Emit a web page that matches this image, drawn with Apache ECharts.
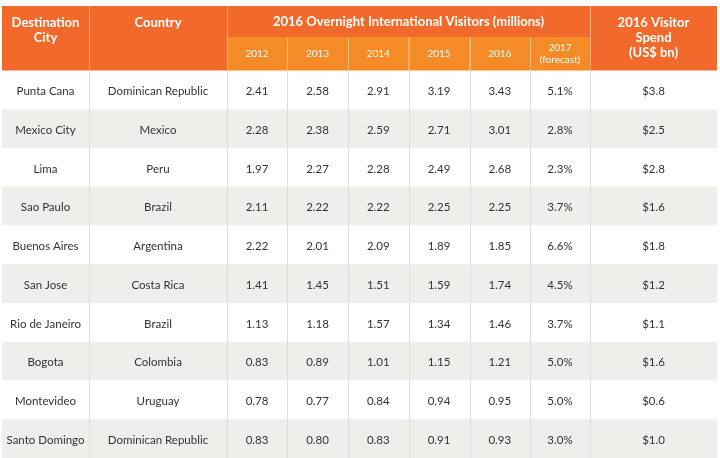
<!DOCTYPE html>
<html>
<head>
<meta charset="utf-8">
<script src="https://cdn.jsdelivr.net/npm/echarts@6/dist/echarts.min.js"></script>
<style>
    html, body { margin: 0; padding: 0; background: #ffffff; }
    #main { width: 720px; height: 458px; }
</style>
</head>
<body>
<div id="main"></div>
<script>
// table data
var cities = ["Punta Cana", "Mexico City", "Lima", "Sao Paulo", "Buenos Aires",
    "San Jose", "Rio de Janeiro", "Bogota", "Montevideo", "Santo Domingo"];
var countries = ["Dominican Republic", "Mexico", "Peru", "Brazil", "Argentina",
    "Costa Rica", "Brazil", "Colombia", "Uruguay", "Dominican Republic"];
var v2012 = ["2.41", "2.28", "1.97", "2.11", "2.22", "1.41", "1.13", "0.83", "0.78", "0.83"];
var v2013 = ["2.58", "2.38", "2.27", "2.22", "2.01", "1.45", "1.18", "0.89", "0.77", "0.80"];
var v2014 = ["2.91", "2.59", "2.28", "2.22", "2.09", "1.51", "1.57", "1.01", "0.84", "0.83"];
var v2015 = ["3.19", "2.71", "2.49", "2.25", "1.89", "1.59", "1.34", "1.15", "0.94", "0.91"];
var v2016 = ["3.43", "3.01", "2.68", "2.25", "1.85", "1.74", "1.46", "1.21", "0.95", "0.93"];
var growth2017 = ["5.1%", "2.8%", "2.3%", "3.7%", "6.6%", "4.5%", "3.7%", "5.0%", "5.0%", "3.0%"];
var spend2016 = ["$3.8", "$2.5", "$2.8", "$1.6", "$1.8", "$1.2", "$1.1", "$1.6", "$0.6", "$1.0"];

var yearLabels = ["2012", "2013", "2014", "2015", "2016", "2017\n(forecast)"];
var headCity = "Destination\nCity";
var headCountry = "Country";
var headVisitors = "2016 Overnight International Visitors (millions)";
var headSpend = "2016 Visitor\nSpend\n(US$ bn)";

// layout
var colWidths = [87, 138, 60, 61, 60.5, 61, 60.5, 60, 127];
var colStart = [0];
for (var i = 1; i <= colWidths.length; i++) {
    colStart.push(colStart[i - 1] + colWidths[i - 1]);
}
var totalWidth = colStart[colWidths.length];

var ORANGE = "#f26a2b";
var ORANGE_LIGHT = "#f58b26";
var FONT = "Lato";

var columns = [cities, countries, v2012, v2013, v2014, v2015, v2016, growth2017, spend2016];

var bodyData = [];
for (var r = 0; r < cities.length; r++) {
    for (var c = 0; c < columns.length; c++) {
        bodyData.push({ value: [c, r], text: columns[c][r] });
    }
}

// header cells: column span, row span (0..2), text
var headerData = [
    { value: [0, 1, 0, 2], text: headCity, bg: ORANGE, top: true },
    { value: [1, 2, 0, 2], text: headCountry, bg: ORANGE, top: true },
    { value: [2, 8, 0, 0.96], text: headVisitors, bg: ORANGE },
    { value: [8, 9, 0, 2], text: headSpend, bg: ORANGE, top: true }
];
for (var k = 0; k < yearLabels.length; k++) {
    headerData.push({ value: [2 + k, 3 + k, 0.96, 2], text: yearLabels[k], bg: ORANGE_LIGHT, small: true });
}

function renderBody(params, api) {
    var col = api.value(0);
    var row = api.value(1);
    var p0 = api.coord([colStart[col], row]);
    var p1 = api.coord([colStart[col + 1], row]);
    var h = api.size([0, 1])[1];
    var y0 = p0[1] - h / 2;
    var children = [{
        type: "rect",
        shape: { x: p0[0], y: y0, width: p1[0] - p0[0], height: h },
        style: { fill: row % 2 ? "#efeeeb" : "#ffffff" }
    }];
    if (col > 0) {
        var lx = Math.round(p0[0]) + 0.5;
        children.push({
            type: "line",
            shape: { x1: lx, y1: y0, x2: lx, y2: y0 + h },
            style: { stroke: "#dddddd", lineWidth: 1 }
        });
    }
    children.push({
        type: "text",
        style: {
            text: bodyData[params.dataIndex].text,
            x: (p0[0] + p1[0]) / 2,
            y: p0[1] + 1.5,
            align: "center",
            verticalAlign: "middle",
            fill: "#333333",
            fontSize: 11.5,
            fontFamily: FONT
        }
    });
    return { type: "group", children: children };
}

function renderHeader(params, api) {
    var item = headerData[params.dataIndex];
    var a = api.coord([colStart[api.value(0)], api.value(2)]);
    var b = api.coord([colStart[api.value(1)], api.value(3)]);
    var children = [{
        type: "rect",
        shape: { x: a[0], y: a[1], width: b[0] - a[0], height: b[1] - a[1] },
        style: { fill: item.bg }
    }];
    if (api.value(0) > 0) {
        var lx = Math.round(a[0]) + 0.5;
        children.push({
            type: "line",
            shape: { x1: lx, y1: a[1], x2: lx, y2: b[1] },
            style: { stroke: "rgba(255,255,255,0.4)", lineWidth: 1 }
        });
    }
    children.push({
        type: "text",
        style: {
            text: item.text,
            x: (a[0] + b[0]) / 2,
            y: item.top ? a[1] + 9 : (a[1] + b[1]) / 2 + 0.5,
            align: "center",
            verticalAlign: item.top ? "top" : "middle",
            fill: "#ffffff",
            fontSize: item.small ? 10 : 13,
            fontWeight: item.small ? "normal" : "bold",
            lineHeight: item.small ? 12 : 15,
            fontFamily: FONT
        }
    });
    return { type: "group", children: children };
}

var myChart = echarts.init(document.getElementById("main"));

var option = {
    backgroundColor: "#ffffff",
    animation: false,
    grid: [
        { left: 2, top: 70.5, width: totalWidth, height: 392 },
        { left: 2, top: 6, width: totalWidth, height: 64.5 }
    ],
    xAxis: [
        { type: "value", gridIndex: 0, min: 0, max: totalWidth, show: false },
        { type: "value", gridIndex: 1, min: 0, max: totalWidth, show: false }
    ],
    yAxis: [
        { type: "category", gridIndex: 0, data: cities, inverse: true, show: false },
        { type: "value", gridIndex: 1, min: 0, max: 2, inverse: true, show: false }
    ],
    series: [
        {
            type: "custom",
            xAxisIndex: 0,
            yAxisIndex: 0,
            data: bodyData,
            renderItem: renderBody,
            clip: false
        },
        {
            type: "custom",
            xAxisIndex: 1,
            yAxisIndex: 1,
            data: headerData,
            renderItem: renderHeader,
            clip: false
        }
    ]
};

myChart.setOption(option);
window.addEventListener("resize", function () {
    myChart.resize();
});
</script>
</body>
</html>
